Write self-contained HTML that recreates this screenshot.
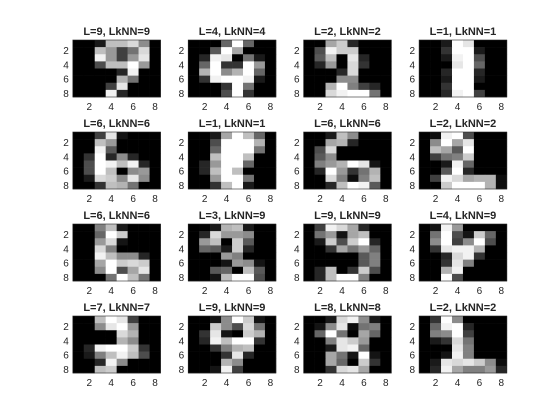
<!DOCTYPE html>
<html><head><meta charset="utf-8"><style>
html,body{margin:0;padding:0;background:#fff;width:560px;height:420px;overflow:hidden}
text{font-family:"Liberation Sans",sans-serif;fill:#262626}
</style></head><body>
<svg id="fig" width="560" height="420" xmlns="http://www.w3.org/2000/svg">
<rect width="560" height="420" fill="#fff"/>
</svg>
<script>
const trueLabels=[9,4,2,1,6,1,6,2,6,3,9,4,7,9,8,2];
const knnLabels=[9,4,2,1,6,1,6,2,6,9,9,9,7,9,8,2];
const tickValues=[2,4,6,8];
const images=[
[[0,0,0.1,0.75,0.75,0.85,0.55,0],[0,0,0.75,0.6,0.25,0.45,0.85,0],[0,0,0.95,0.6,0.25,0.6,0.9,0],[0,0,0.3,0.75,0.75,1,0.6,0],[0,0,0,0,0.15,0.95,0,0],[0,0,0,0,0.7,0.45,0,0],[0,0,0,0.25,0.9,0,0,0],[0,0,0,0.95,0.15,0,0,0]],
[[0,0,0,0.4,1,0.4,0,0],[0,0,0.35,1,0.65,0,0,0],[0,0.15,0.95,0.9,0,0.45,0.1,0],[0,0.4,1,0.2,0.2,1,0.6,0],[0,0.7,1,0.55,0.7,1,0.4,0],[0,0.2,0.95,1,1,0.95,0.1,0],[0,0,0,0.2,1,0.45,0,0],[0,0,0,0.3,1,0.2,0,0]],
[[0,0,0.65,0.8,0.15,0,0,0],[0,0.3,0.95,0.8,0.8,0,0,0],[0,0.35,0.75,0,0.9,0.15,0,0],[0,0.15,0.6,0,0.85,0.2,0,0],[0,0,0,0.15,0.85,0,0,0],[0,0,0,0.55,0.55,0,0,0],[0,0,0.7,1,0.5,0.25,0.15,0],[0,0,0.85,0.95,1,1,0.45,0]],
[[0,0,0.1,1,0.9,0,0,0],[0,0,0.2,1,1,0.1,0,0],[0,0,0.1,0.95,1,0.3,0,0],[0,0,0,0.9,1,0.4,0,0],[0,0,0.15,1,1,0.15,0,0],[0,0,0.1,1,1,0.1,0,0],[0,0,0.2,1,1,0,0,0],[0,0,0.15,0.95,1,0.25,0,0]],
[[0,0,0.25,0.9,0.08,0,0,0],[0,0,0.75,0.6,0,0,0,0],[0,0,0.95,0.35,0,0,0,0],[0,0.2,1,0.15,0.55,0.15,0,0],[0,0.3,1,0.95,0.75,0.95,0.15,0],[0,0.3,1,0.75,0,0.55,0.6,0],[0,0.1,0.85,0.8,0.55,0.9,0.55,0],[0,0,0.2,0.75,0.7,0.45,0,0]],
[[0,0,0.1,0.65,1,0.75,0.4,0],[0,0,0.3,1,1,1,0.7,0],[0,0,0.4,1,1,1,0.45,0],[0,0,0.75,1,1,0.75,0,0],[0,0.15,0.6,1,1,0.4,0,0],[0,0.15,0.75,1,0.75,0,0,0],[0,0,0.6,1,1,0.45,0,0],[0,0,0.2,0.75,1,0.1,0,0]],
[[0,0,0.1,0.75,0.55,0,0,0],[0,0,0.65,0.7,0.15,0,0,0],[0,0.3,0.85,0,0,0,0,0],[0,0.35,0.55,0,0,0,0,0],[0,0.5,0.6,0.7,1,0.9,0.08,0],[0,0.15,1,0.6,0.2,0.45,0.7,0],[0,0,0.85,0.5,0.05,0.5,0.75,0],[0,0,0.15,0.75,1,0.95,0.35,0]],
[[0,0.05,0.95,1,0.3,0,0,0],[0,0.55,1,0.65,0.9,0,0,0],[0,0.75,0.65,0.35,1,0,0,0],[0,0.25,0.45,0.5,0.8,0,0,0],[0,0,0.1,0.95,0.4,0,0,0],[0,0,0.35,1,0.15,0,0,0],[0,0.25,0.95,0.85,0.65,0.7,0.7,0.05],[0,0,0.8,1,1,1,0.7,0.05]],
[[0,0,0.5,0.75,0.1,0,0,0],[0,0,0.4,1,0.8,0,0,0],[0,0,0.6,0.85,0.08,0,0,0],[0,0,0.85,0.5,0,0,0,0],[0,0,0.95,0.75,0.55,0.55,0.15,0],[0,0,0.65,1,0.8,0.85,0.8,0],[0,0,0.55,1,0.3,0.65,0.9,0],[0,0,0,0.45,1,0.75,0.45,0]],
[[0,0,0.1,0.7,0.75,0.1,0,0],[0,0.15,0.85,0.6,0.6,0.55,0,0],[0,0.6,0.75,0,0.8,0.35,0,0],[0,0.4,0.35,0.1,0.8,0.15,0,0],[0,0,0,0.6,0.5,0,0,0],[0,0,0,0.08,0.6,0.55,0.08,0],[0,0,0.35,0.4,0,0.75,0.35,0],[0,0,0.08,0.75,1,1,0.3,0]],
[[0,0.25,0.95,0.85,0.65,0.15,0,0],[0,0.45,0.6,0.08,0.65,0.75,0,0],[0,0.1,0.8,0.3,0.8,1,0.15,0],[0,0,0.2,0.65,0.45,0.6,0.4,0],[0,0,0,0,0,0.35,0.5,0],[0,0,0,0,0,0.35,0.5,0],[0,0.15,0.75,0,0.2,0.8,0.3,0],[0,0.15,0.75,1,1,0.5,0,0]],
[[0,0.08,0.95,0.6,0,0,0,0],[0,0.45,1,0.3,0.08,0.8,0.4,0],[0,0.55,1,0.25,0.55,1,0.3,0],[0,0.2,0.9,0.95,0.95,0.7,0,0],[0,0,0.15,0.85,0.95,0.2,0,0],[0,0,0.2,0.9,0.5,0,0,0],[0,0,0.7,0.95,0,0,0,0],[0,0,1,0.3,0,0,0,0]],
[[0,0,0.75,1,0.9,0.25,0,0],[0,0,0.55,0.9,1,0.6,0,0],[0,0,0,0,0.85,0.7,0,0],[0,0,0,0,0.7,0.55,0,0],[0,0.15,0.95,1,1,0.8,0.2,0],[0,0.1,0.5,0.75,0.95,0.75,0.3,0],[0,0,0.15,0.95,0.55,0,0,0],[0,0,0.75,0.8,0,0,0,0]],
[[0,0,0.08,0.55,1,0.8,0.08,0],[0,0,0.8,0.55,0.3,0.85,0.45,0],[0,0.2,0.9,0.08,0,0.8,0.7,0],[0,0.15,0.95,0.75,1,1,0.2,0],[0,0,0.2,0.5,0.7,0.75,0,0],[0,0,0,0.2,0.9,0.15,0,0],[0,0,0,0.7,0.55,0,0,0],[0,0,0.08,0.95,0.25,0,0,0]],
[[0,0,0.1,0.85,0.95,0.55,0.1,0],[0,0.08,0.55,0.9,0.05,0.45,0.5,0],[0,0.4,1,0.45,0,0.65,0.4,0],[0,0,0.5,0.9,0.8,0.6,0,0],[0,0,0.1,0.9,0.95,0.4,0,0],[0,0,0.65,0.45,0.08,1,0.08,0],[0,0,0.65,0.4,0,0.8,0.2,0],[0,0,0.2,0.85,0.9,0.65,0,0]],
[[0,0.2,1,0.55,0,0,0,0],[0,0.4,0.95,1,0.15,0,0,0],[0,0.5,0.55,1,0.25,0,0,0],[0,0.1,0.2,0.85,0.45,0,0,0],[0,0,0,0.9,0.5,0,0,0],[0,0,0.08,0.95,0.5,0,0,0],[0,0.1,0.9,0.85,0.9,0.8,0.55,0.05],[0,0.15,0.95,0.65,0.5,0.5,0.6,0.15]]
];
const NS="http://www.w3.org/2000/svg";
const svg=document.getElementById('fig');
const colLefts=[72.8,188.2,303.6,419.1], rowTops=[40,132,224,316];
const AW=87.7, AH=57;
function mk(tag,attrs,parent){const e=document.createElementNS(NS,tag);for(const k in attrs)e.setAttribute(k,attrs[k]);parent.appendChild(e);return e;}
images.forEach((img,i)=>{
  const x0=colLefts[i%4], y0=rowTops[Math.floor(i/4)];
  const g=mk('g',{},svg);
  
  
  const cw=AW/8, ch=AH/8;
  const xs=c=>x0+(c-0.5)*cw, ys=r=>y0+(r-0.5)*ch;
  img.forEach((row,r)=>row.forEach((v,c)=>{
    const gv=Math.round(v*255);
    const cell=mk('rect',{x:xs(c+0.5).toFixed(2),y:ys(r+0.5).toFixed(2),width:(cw+0.3).toFixed(2),height:(ch+0.3).toFixed(2),fill:`rgb(${gv},${gv},${gv})`},g);
    
    
  }));
  const box=mk('rect',{x:x0,y:y0,width:AW,height:AH,fill:'none',stroke:'#262626','stroke-width':0.6},g);
  
  
  const t=mk('text',{x:x0+AW/2,y:y0-5,'text-anchor':'middle','font-size':'11','font-weight':'bold'},g);
  t.textContent='L='+trueLabels[i]+', LkNN='+knnLabels[i];
  
  
  tickValues.forEach(v=>{
    const yt=mk('text',{x:x0-4,y:ys(v)+3.5,'text-anchor':'end','font-size':'10'},g);
    yt.textContent=v;
    
    
    const xt=mk('text',{x:xs(v),y:y0+AH+13,'text-anchor':'middle','font-size':'10'},g);
    xt.textContent=v;
    
    
  });
});
</script>
</body></html>
